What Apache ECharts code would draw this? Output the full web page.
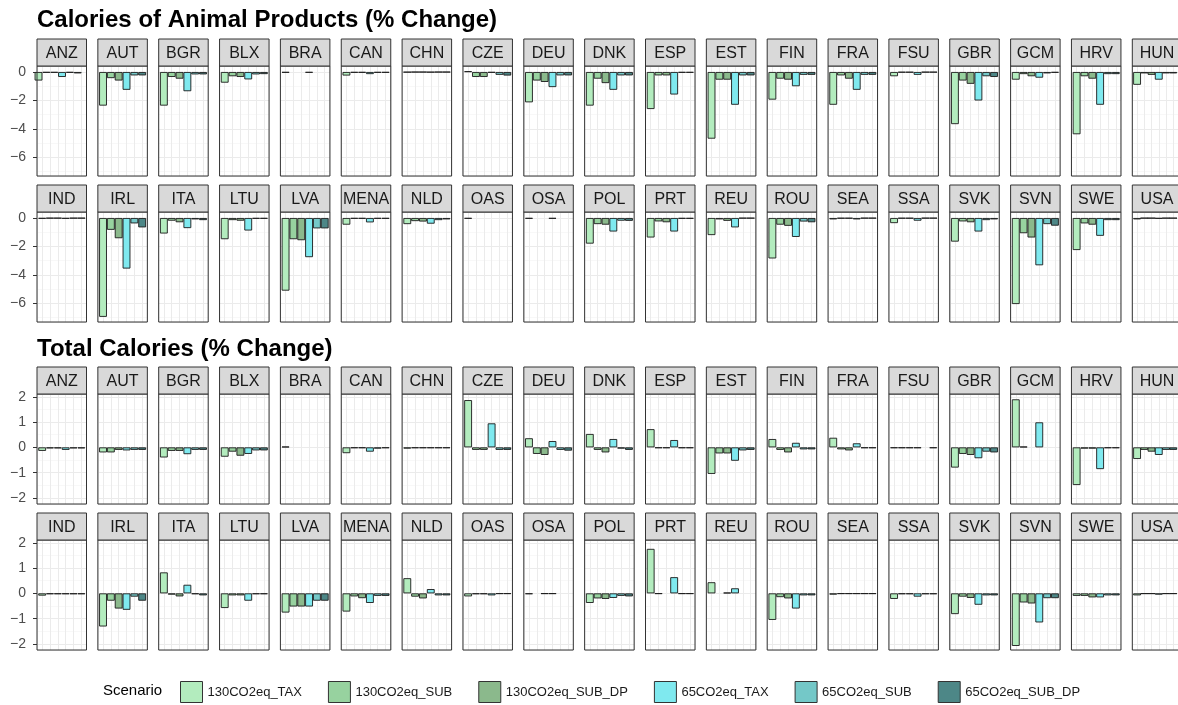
<!DOCTYPE html>
<html><head><meta charset="utf-8">
<script src="https://cdn.jsdelivr.net/npm/echarts@6/dist/echarts.min.js"></script>
<style>html,body{margin:0;padding:0;background:#fff}#c{width:1178px;height:705px}</style>
</head><body><div id="c"></div>
<script>
// ---------------- DATA ----------------
const regions = ['ANZ','AUT','BGR','BLX','BRA','CAN','CHN','CZE','DEU','DNK','ESP','EST','FIN','FRA','FSU','GBR','GCM','HRV','HUN',
                 'IND','IRL','ITA','LTU','LVA','MENA','NLD','OAS','OSA','POL','PRT','REU','ROU','SEA','SSA','SVK','SVN','SWE','USA'];
const scenarios = ['130CO2eq_TAX','130CO2eq_SUB','130CO2eq_SUB_DP','65CO2eq_TAX','65CO2eq_SUB','65CO2eq_SUB_DP'];

// Calories of Animal Products (% Change), one array per scenario, in region order
const animal_130_TAX   = [-0.6,-2.36,-2.36,-0.75,-0.05,-0.25,-0.02,0.05,-2.13,-2.36,-2.6,-4.68,-1.94,-2.3,-0.3,-3.66,-0.54,-4.37,-0.9,
                          -0.05,-6.94,-1.09,-1.49,-5.1,-0.47,-0.43,-0.05,-0.05,-1.8,-1.37,-1.2,-2.84,-0.1,-0.36,-1.66,-6.04,-2.25,-0.1];
const animal_130_SUB   = [-0.05,-0.43,-0.35,-0.3,null,-0.05,-0.01,-0.35,-0.6,-0.47,-0.24,-0.54,-0.47,-0.24,-0.03,-0.6,-0.15,-0.3,-0.1,
                          -0.02,-0.83,-0.19,-0.15,-1.49,-0.05,-0.22,null,null,-0.43,-0.24,-0.1,-0.47,-0.03,-0.03,-0.24,-1.07,-0.38,-0.02];
const animal_130_SUBDP = [-0.05,-0.6,-0.47,-0.35,null,-0.05,-0.01,-0.35,-0.7,-0.78,-0.24,-0.54,-0.54,-0.47,-0.03,-0.83,-0.3,-0.47,-0.2,
                          -0.02,-1.42,-0.3,-0.19,-1.56,-0.05,-0.25,null,null,-0.47,-0.3,-0.2,-0.55,-0.03,-0.03,-0.3,-1.37,-0.47,-0.02];
const animal_65_TAX    = [-0.35,-1.25,-1.35,-0.52,-0.05,-0.15,-0.02,-0.05,-1.06,-1.25,-1.58,-2.3,-1.0,-1.25,-0.2,-2.0,-0.4,-2.3,-0.54,
                          -0.05,-3.55,-0.71,-0.88,-2.75,-0.31,-0.4,null,-0.05,-0.95,-0.95,-0.66,-1.33,-0.1,-0.19,-0.95,-3.32,-1.25,-0.05];
const animal_65_SUB    = [-0.05,-0.24,-0.17,-0.17,null,-0.05,-0.01,-0.2,-0.24,-0.24,-0.05,-0.24,-0.2,-0.2,-0.02,-0.3,-0.1,-0.15,-0.1,
                          -0.02,-0.38,-0.1,-0.05,-0.73,-0.05,-0.15,null,null,-0.19,-0.05,-0.02,-0.25,-0.02,-0.02,-0.15,-0.43,-0.15,-0.02];
const animal_65_SUBDP  = [-0.1,-0.24,-0.17,-0.15,null,-0.05,-0.01,-0.25,-0.24,-0.24,-0.05,-0.24,-0.2,-0.2,-0.02,-0.35,-0.05,-0.15,-0.1,
                          -0.02,-0.66,-0.15,-0.05,-0.73,-0.05,-0.1,null,null,-0.2,-0.05,-0.02,-0.3,-0.02,-0.02,-0.1,-0.54,-0.15,-0.02];

// Total Calories (% Change)
const total_130_TAX   = [-0.14,-0.2,-0.4,-0.37,0.03,-0.23,-0.05,1.87,0.36,0.53,0.72,-1.05,0.33,0.38,-0.03,-0.8,1.9,-1.49,-0.46,
                         -0.09,-1.31,0.83,-0.58,-0.76,-0.72,0.6,-0.12,-0.03,-0.38,1.76,0.44,-1.05,-0.05,-0.22,-0.82,-2.08,-0.1,-0.08];
const total_130_SUB   = [-0.04,-0.2,-0.14,-0.17,null,-0.03,-0.03,-0.1,-0.26,-0.1,-0.03,-0.24,-0.1,-0.08,-0.03,-0.26,0.03,-0.05,-0.1,
                         -0.03,-0.29,-0.05,-0.08,-0.52,-0.12,-0.13,-0.03,null,-0.2,-0.02,null,-0.15,-0.02,-0.03,-0.13,-0.36,-0.1,-0.02];
const total_130_SUBDP = [-0.04,-0.1,-0.14,-0.33,null,-0.03,-0.03,-0.1,-0.3,-0.2,-0.03,-0.24,-0.2,-0.12,-0.03,-0.3,null,-0.05,-0.17,
                         -0.03,-0.6,-0.12,-0.08,-0.52,-0.19,-0.2,-0.03,-0.02,-0.22,null,0.03,-0.2,-0.02,-0.03,-0.18,-0.4,-0.16,-0.02];
const total_65_TAX    = [-0.1,-0.12,-0.27,-0.26,null,-0.17,-0.03,0.95,0.25,0.33,0.29,-0.53,0.18,0.16,-0.03,-0.43,0.99,-0.86,-0.3,
                         -0.03,-0.65,0.34,-0.29,-0.52,-0.38,0.17,-0.08,-0.02,-0.18,0.64,0.2,-0.6,-0.02,-0.13,-0.45,-1.15,-0.16,-0.05];
const total_65_SUB    = [-0.04,-0.1,-0.1,-0.12,null,-0.05,-0.03,-0.1,-0.1,-0.05,-0.03,-0.12,-0.08,-0.03,null,-0.17,null,-0.03,-0.1,
                         -0.03,-0.13,-0.03,-0.03,-0.29,-0.1,-0.08,-0.02,null,-0.1,-0.02,null,-0.08,-0.02,-0.03,-0.08,-0.19,-0.08,-0.02];
const total_65_SUBDP  = [-0.04,-0.1,-0.1,-0.12,null,-0.03,-0.03,-0.1,-0.13,-0.1,-0.03,-0.1,-0.08,-0.03,-0.03,-0.2,null,-0.03,-0.1,
                         -0.03,-0.29,-0.08,-0.03,-0.29,-0.1,-0.08,-0.02,null,-0.12,-0.02,null,-0.08,-0.02,-0.03,-0.08,-0.19,-0.08,-0.02];

const animalTickLabels = [0,-2,-4,-6];
const totalTickLabels  = [2,1,0,-1,-2];
const titles = ['Calories of Animal Products (% Change)', 'Total Calories (% Change)'];

// ---------------- STYLE / LAYOUT ----------------
const colors = ['#b3ecbe','#97d29f','#8bb98c','#7fe9ef','#74c8c8','#4d8787'];
const FONT = 'Liberation Sans, Arial, sans-serif';
const panelLeft0 = 37, pitch = 60.85, panelW = 49.5, stripH = 27, panelH = 110;
const xMin = 0.34, xMax = 6.66;
const barPx = panelW / (xMax - xMin);
const metrics = {
  animal: {series:[animal_130_TAX,animal_130_SUB,animal_130_SUBDP,animal_65_TAX,animal_65_SUB,animal_65_SUBDP], min:-7.3, max:0.42, ticks:animalTickLabels},
  total:  {series:[total_130_TAX,total_130_SUB,total_130_SUBDP,total_65_TAX,total_65_SUB,total_65_SUBDP], min:-2.24, max:2.11, ticks:totalTickLabels}
};
const rows = [
  {top:39,  metric:'animal', start:0},
  {top:185, metric:'animal', start:19},
  {top:367, metric:'total',  start:0},
  {top:513, metric:'total',  start:19}
];

const grid = [], xAxis = [], yAxis = [], series = [], graphic = [];
let gi = 0;
rows.forEach(row => {
  const m = metrics[row.metric];
  for (let c = 0; c < 19; c++) {
    const ri = row.start + c;
    const left = panelLeft0 + c * pitch;
    const top = row.top + stripH;
    grid.push({left:left, top:top, width:panelW, height:panelH, show:true, backgroundColor:'#fff', borderWidth:0, containLabel:false});
    xAxis.push({gridIndex:gi, type:'value', min:xMin, max:xMax, splitNumber:6,
      axisLine:{show:false}, axisTick:{show:false}, axisLabel:{show:false},
      splitLine:{show:true, lineStyle:{color:'#ebebeb', width:1}}});
    const first = c === 0;
    yAxis.push({gridIndex:gi, type:'value', min:m.min, max:m.max, splitNumber:5,
      axisLine:{show:false},
      axisTick:{show:first, length:4, lineStyle:{color:'#333', width:1}},
      axisLabel:{show:first, showMinLabel:false, showMaxLabel:false, margin:11, color:'#4d4d4d', fontSize:14, fontFamily:FONT,
        formatter: v => {
          const r = Math.round(v * 1000) / 1000;
          if (!m.ticks.includes(r)) return '';
          return r < 0 ? '\u2212' + Math.abs(r) : String(r);
        }},
      splitLine:{show:true, lineStyle:{color:'#ebebeb', width:1}},
      minorTick:{show:false, splitNumber:2},
      minorSplitLine:{show:true, lineStyle:{color:'#f3f3f3', width:0.6}}});
    const data = [];
    m.series.forEach((arr, k) => {
      const v = arr[ri];
      if (v !== null && v !== undefined) data.push({value:[k + 1, v], itemStyle:{color:colors[k]}});
    });
    series.push({type:'bar', xAxisIndex:gi, yAxisIndex:gi, barWidth:barPx, data:data, silent:true, animation:false,
      itemStyle:{borderColor:'#1a1a1a', borderWidth:0.9}});
    // panel border
    graphic.push({type:'rect', z:100, silent:true, shape:{x:left, y:top, width:panelW, height:panelH},
      style:{fill:null, stroke:'#333', lineWidth:1}});
    // strip
    graphic.push({type:'rect', z:100, silent:true, shape:{x:left, y:row.top, width:panelW, height:stripH},
      style:{fill:'#d9d9d9', stroke:'#333', lineWidth:1}});
    graphic.push({type:'text', z:101, silent:true, style:{text:regions[ri], x:left + panelW / 2, y:row.top + stripH / 2 + 1,
      textAlign:'center', textVerticalAlign:'middle', fontSize:16, fontFamily:FONT, fill:'#1a1a1a'}});
    gi++;
  }
});

// section titles
graphic.push({type:'text', silent:true, style:{text:titles[0], x:37, y:20, textVerticalAlign:'middle', fontSize:24, fontWeight:'bold', fontFamily:FONT, fill:'#000'}});
graphic.push({type:'text', silent:true, style:{text:titles[1], x:37, y:349, textVerticalAlign:'middle', fontSize:24, fontWeight:'bold', fontFamily:FONT, fill:'#000'}});
// legend title
graphic.push({type:'text', silent:true, style:{text:'Scenario', x:103, y:691, textVerticalAlign:'middle', fontSize:15, fontFamily:FONT, fill:'#000'}});

// dummy series for legend
scenarios.forEach((s, k) => {
  series.push({type:'bar', name:s, xAxisIndex:0, yAxisIndex:0, data:[], itemStyle:{color:colors[k], borderColor:'#333', borderWidth:1}});
});

const chart = echarts.init(document.getElementById('c'), null, {renderer:'canvas'});
chart.setOption({
  animation:false,
  backgroundColor:'#fff',
  grid:grid, xAxis:xAxis, yAxis:yAxis, series:series, graphic:graphic,
  legend:{data:scenarios, left:175, top:676, orient:'horizontal', icon:'rect', itemWidth:22, itemHeight:21, itemGap:26,
    selectedMode:false, textStyle:{fontSize:13, fontFamily:FONT, color:'#1a1a1a'},
    itemStyle:{borderColor:'#333', borderWidth:1}}
});
</script></body></html>
